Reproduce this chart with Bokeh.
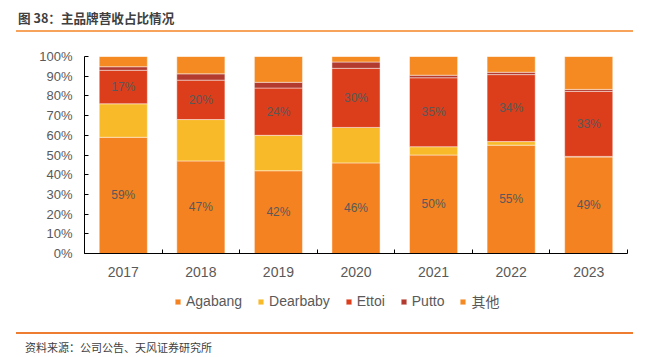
from bokeh.plotting import figure
from bokeh.layouts import column
from bokeh.models import (ColumnDataSource, FixedTicker, Legend, LegendItem, Div,
                          PrintfTickFormatter, Range1d)
from bokeh.core.properties import value
from bokeh.embed import file_html
from bokeh.resources import INLINE

title_text = "图 38：主品牌营收占比情况"
source_text = "资料来源：公司公告、天风证券研究所"
years = ["2017", "2018", "2019", "2020", "2021", "2022", "2023"]
series = ["Agabang", "Dearbaby", "Ettoi", "Putto", "其他"]
agabang = [59, 47, 42, 46, 50, 55, 49]
dearbaby = [17, 21, 18, 18, 4.2, 1.8, 0.3]
ettoi = [17, 20, 24, 30, 35, 34, 33]
putto = [1.8, 3.2, 2.9, 3.2, 1.3, 1.2, 1.0]
others = [5.2, 8.8, 13.1, 2.8, 9.5, 8.0, 16.7]
yticks = [0, 10, 20, 30, 40, 50, 60, 70, 80, 90, 100]
labelled = ["Agabang", "Ettoi"]

colors = ["#F58220", "#F9BA2A", "#DC3D1A", "#B23A2E", "#F58A23"]
LATIN = "'Liberation Sans', 'Noto Sans CJK SC'"
CJK = "'Noto Sans CJK SC'"

xc = [i + 0.5 for i in range(len(years))]
data = {"x": xc, "Agabang": agabang, "Dearbaby": dearbaby, "Ettoi": ettoi,
        "Putto": putto, "其他": others}
src = ColumnDataSource(data)

p = figure(frame_width=543, frame_height=197, output_backend="svg", toolbar_location=None,
           x_range=Range1d(0, len(years)), y_range=Range1d(0, 100),
           min_border_left=84, min_border_right=18, min_border_top=16,
           min_border_bottom=34, margin=0)
p.outline_line_color = None
p.grid.grid_line_color = None
p.background_fill_color = "white"
p.border_fill_color = "white"

bar_style = dict(width=0.62, color=colors, line_color="white", line_alpha=0.45, line_width=1)
p.vbar_stack(series, x="x", source=src, **bar_style)

# value labels
lx, ly, lt = [], [], []
for i in range(len(years)):
    base = 0
    for s in series:
        v = data[s][i]
        if s in labelled:
            lx.append(xc[i]); ly.append(base + v / 2); lt.append(f"{round(v)}%")
        base += v
p.text(x=lx, y=ly, text=lt, text_align="center", text_baseline="middle",
       text_font=value(LATIN), text_font_size="12px", text_color="#595959")

# axes
xa = p.xaxis[0]
xa.ticker = FixedTicker(ticks=xc, minor_ticks=list(range(len(years) + 1)))
xa.major_label_overrides = {c: y for c, y in zip(xc, years)}
xa.major_tick_line_color = None
xa.minor_tick_in = 4
xa.minor_tick_out = 0
xa.minor_tick_line_color = "#000000"
xa.axis_line_color = "#000000"
xa.major_label_text_font = LATIN
xa.major_label_text_font_size = "14px"
xa.major_label_text_color = "#595959"
xa.major_label_standoff = 7

ya = p.yaxis[0]
ya.ticker = FixedTicker(ticks=yticks)
ya.formatter = PrintfTickFormatter(format="%d%%")
ya.major_tick_in = 4
ya.major_tick_out = 0
ya.minor_tick_line_color = None
ya.major_tick_line_color = "#000000"
ya.axis_line_color = "#000000"
ya.major_label_text_font = LATIN
ya.major_label_text_font_size = "13px"
ya.major_label_text_color = "#595959"
ya.major_label_standoff = 12

# legend strip: same series, drawn out of view so only the legend shows
lf = figure(width=645, height=33, output_backend="svg", toolbar_location=None,
            x_range=Range1d(100, 101), y_range=Range1d(200, 201),
            x_axis_location=None, y_axis_location=None, min_border=0, margin=0)
lf.outline_line_color = None
lf.grid.grid_line_color = None
lrs = lf.vbar_stack(series, x="x", source=src, **bar_style)
legend = Legend(items=[LegendItem(label=s, renderers=[r]) for s, r in zip(series, lrs)],
                orientation="horizontal", location=(90, 9),
                glyph_width=7, glyph_height=7, label_standoff=5, spacing=15,
                label_text_font=LATIN, label_text_font_size="14px",
                label_text_color="#595959", border_line_color=None,
                background_fill_alpha=0, padding=4, margin=0)
lf.add_layout(legend, "center")

top = Div(width=645, height=40, margin=0, text=(
    '<div style="position:relative;width:645px;height:40px;">'
    f'<div style="position:absolute;left:18px;top:9px;font-family:{CJK};font-size:12.6px;'
    f'font-weight:bold;color:#404040;line-height:18px;white-space:nowrap;">{title_text}</div>'
    '<div style="position:absolute;left:16px;top:30px;width:617px;height:2px;background:#F7A35C;"></div>'
    '</div>'))
bottom = Div(width=645, height=37, margin=0, text=(
    '<div style="position:relative;width:645px;height:37px;">'
    '<div style="position:absolute;left:16px;top:12px;width:617px;height:1.5px;background:#EE7D31;"></div>'
    f'<div style="position:absolute;left:25px;top:19px;font-family:{CJK};font-size:11px;'
    f'color:#404040;line-height:16px;white-space:nowrap;">{source_text}</div>'
    '</div>'))

layout = column(top, p, lf, bottom, spacing=0, margin=0)
open("out.html", "w").write(file_html(layout, INLINE))
